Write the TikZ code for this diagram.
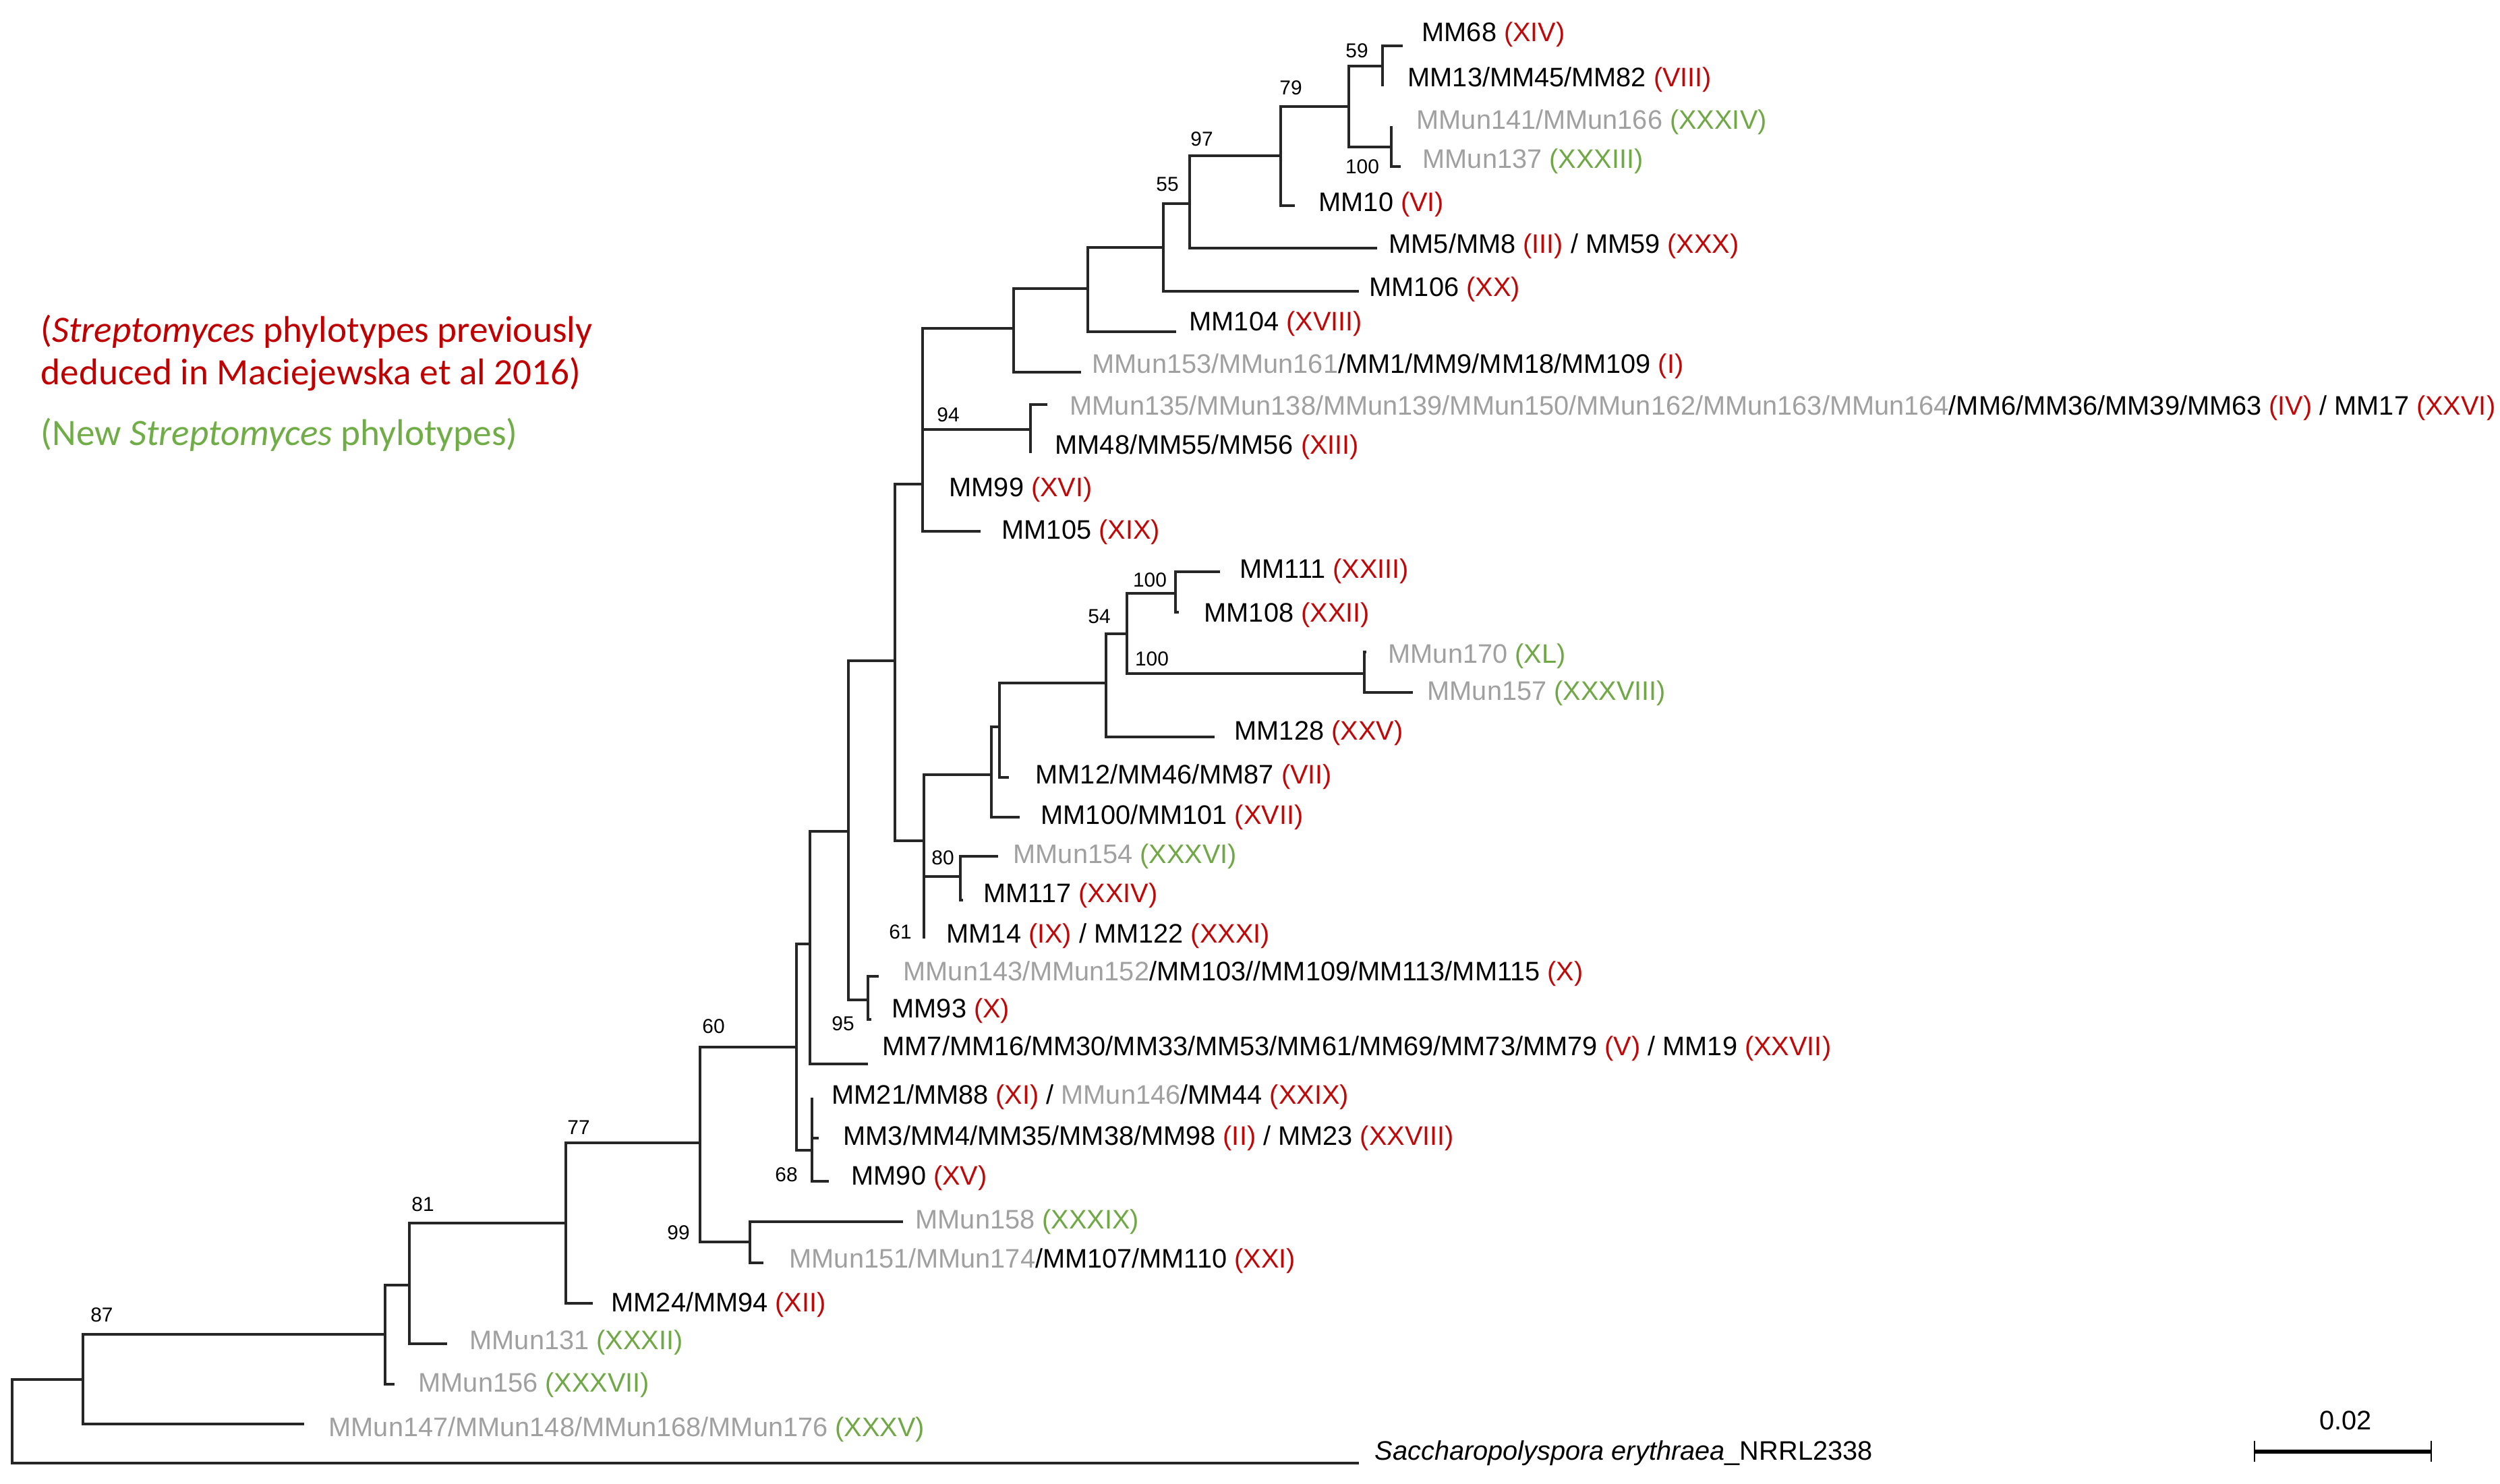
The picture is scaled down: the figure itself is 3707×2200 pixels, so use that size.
\documentclass[tikz,border=0pt]{standalone}
\usepackage{fontspec}
\setmainfont{Liberation Sans}
\newfontfamily\legfont{Carlito}
\definecolor{numred}{RGB}{192,8,8}
\definecolor{numgreen}{RGB}{112,168,70}
\definecolor{ungrey}{RGB}{160,160,160}
\definecolor{legred}{RGB}{192,0,0}
\definecolor{leggreen}{RGB}{112,173,71}
\newcommand{\rd}[1]{\textcolor{numred}{(#1)}}
\newcommand{\gr}[1]{\textcolor{numgreen}{(#1)}}
\newcommand{\ug}[1]{\textcolor{ungrey}{#1}}
\begin{document}
\begin{tikzpicture}[x=0.01cm,y=-0.01cm,
 br/.style={line width=1.2pt, black!85},
 leaf/.style={anchor=base west, inner sep=0pt, font=\fontsize{11.3}{13}\selectfont},
 boot/.style={anchor=base, inner sep=0pt, font=\fontsize{8.5}{10}\selectfont},
 legend/.style={anchor=base west, inner sep=0pt, font=\legfont\fontsize{15.7}{18}\selectfont}]
\fill[white] (0,0) rectangle (3707,2200);
\useasboundingbox (0,0) rectangle (3707,2200);

% ---- internal nodes ----
\coordinate (root) at (18,2108);
\coordinate (n87) at (123,2046);
\coordinate (n571) at (571,1979);
\coordinate (n81) at (607,1906);
\coordinate (n77) at (839,1814);
\coordinate (n60) at (1038,1695);
\coordinate (n1112) at (1112,1842);
\coordinate (n1181) at (1181,1553);
\coordinate (n68) at (1204,1706);
\coordinate (n1201) at (1201,1400);
\coordinate (n1258) at (1258,1233);
\coordinate (n95) at (1287,1483);
\coordinate (n1326) at (1327,980);
\coordinate (n61) at (1370,1247);
\coordinate (n80) at (1424,1300);
\coordinate (n1469) at (1470,1149);
\coordinate (n1482) at (1482,1078);
\coordinate (n1640) at (1640,1013);
\coordinate (n54) at (1671,940);
\coordinate (n1743) at (1743,880);
\coordinate (n2023) at (2023,999);
\coordinate (n1368) at (1368,718);
\coordinate (n1503) at (1503,487);
\coordinate (n94) at (1528,637);
\coordinate (n1613) at (1613,428);
\coordinate (n1725) at (1725,367);
\coordinate (n55) at (1764,302);
\coordinate (n97) at (1899,231);
\coordinate (n79) at (2000,158);
\coordinate (n59) at (2050,98);
\coordinate (n100a) at (2063,218);

% ---- leaf tips ----
\coordinate (lsac) at (2015,2170);
\coordinate (l147) at (451,2112);
\coordinate (l156) at (585,2053);
\coordinate (l131) at (663,1993);
\coordinate (l24) at (879,1933);
\coordinate (l158) at (1339,1812);
\coordinate (l151) at (1132,1873);
\coordinate (l21) at (1204,1628);
\coordinate (l3) at (1214,1688);
\coordinate (l90) at (1229,1752);
\coordinate (l7) at (1287,1578);
\coordinate (l143) at (1303,1448);
\coordinate (l93) at (1292,1512);
\coordinate (l14) at (1370,1392);
\coordinate (l154) at (1480,1270);
\coordinate (l117) at (1428,1335);
\coordinate (l100) at (1512,1212);
\coordinate (l12) at (1496,1153);
\coordinate (l128) at (1801,1093);
\coordinate (l111) at (1809,848);
\coordinate (l108) at (1748,908);
\coordinate (l170) at (2026,967);
\coordinate (l157) at (2095,1027);
\coordinate (l105) at (1454,788);
\coordinate (l153) at (1603,552);
\coordinate (l104) at (1744,492);
\coordinate (l106) at (2015,432);
\coordinate (l5) at (2042,368);
\coordinate (l10) at (1920,305);
\coordinate (l68) at (2080,68);
\coordinate (l13) at (2050,128);
\coordinate (l141) at (2063,187);
\coordinate (l137) at (2077,247);
\coordinate (l135) at (1553,600);
\coordinate (l48) at (1528,672);

% ---- branches ----
\draw[br] (root) |- (n87);  \draw[br] (root) |- (lsac);
\draw[br] (n87) |- (n571);  \draw[br] (n87) |- (l147);
\draw[br] (n571) |- (n81);  \draw[br] (n571) |- (l156);
\draw[br] (n81) |- (n77);   \draw[br] (n81) |- (l131);
\draw[br] (n77) |- (n60);   \draw[br] (n77) |- (l24);
\draw[br] (n60) |- (n1181); \draw[br] (n60) |- (n1112);
\draw[br] (n1112) |- (l158); \draw[br] (n1112) |- (l151);
\draw[br] (n1181) |- (n1201); \draw[br] (n1181) |- (n68);
\draw[br] (n68) |- (l21); \draw[br] (n68) |- (l3); \draw[br] (n68) |- (l90);
\draw[br] (n1201) |- (n1258); \draw[br] (n1201) |- (l7);
\draw[br] (n1258) |- (n1326); \draw[br] (n1258) |- (n95);
\draw[br] (n95) |- (l143); \draw[br] (n95) |- (l93);
\draw[br] (n1326) |- (n1368); \draw[br] (n1326) |- (n61);
\draw[br] (n61) |- (n1469); \draw[br] (n61) |- (n80); \draw[br] (n61) |- (l14);
\draw[br] (n80) |- (l154); \draw[br] (n80) |- (l117);
\draw[br] (n1469) |- (n1482); \draw[br] (n1469) |- (l100);
\draw[br] (n1482) |- (n1640); \draw[br] (n1482) |- (l12);
\draw[br] (n1640) |- (n54); \draw[br] (n1640) |- (l128);
\draw[br] (n54) |- (n1743); \draw[br] (n54) |- (n2023);
\draw[br] (n1743) |- (l111); \draw[br] (n1743) |- (l108);
\draw[br] (n2023) |- (l170); \draw[br] (n2023) |- (l157);
\draw[br] (n1368) |- (n1503); \draw[br] (n1368) |- (n94); \draw[br] (n1368) |- (l105);
\draw[br] (n94) |- (l135); \draw[br] (n94) |- (l48);
\draw[br] (n1503) |- (n1613); \draw[br] (n1503) |- (l153);
\draw[br] (n1613) |- (n1725); \draw[br] (n1613) |- (l104);
\draw[br] (n1725) |- (n55); \draw[br] (n1725) |- (l106);
\draw[br] (n55) |- (n97); \draw[br] (n55) |- (l5);
\draw[br] (n97) |- (n79); \draw[br] (n97) |- (l10);
\draw[br] (n79) |- (n59); \draw[br] (n79) |- (n100a);
\draw[br] (n59) |- (l68); \draw[br] (n59) |- (l13);
\draw[br] (n100a) |- (l141); \draw[br] (n100a) |- (l137);

% ---- bootstrap values ----
\node[boot] (b59) at (2012,86) {59};
\node[boot] (b79) at (1914,140) {79};
\node[boot] (b97) at (1782,216) {97};
\node[boot] (b55) at (1731,283) {55};
\node[boot] (b100a) at (2020,258) {100};
\node[boot] (b94) at (1406,625) {94};
\node[boot] (b100b) at (1705,870) {100};
\node[boot] (b54) at (1630,924) {54};
\node[boot] (b100c) at (1708,987) {100};
\node[boot] (b80) at (1398,1282) {80};
\node[boot] (b61) at (1335,1392) {61};
\node[boot] (b95) at (1250,1528) {95};
\node[boot] (b60) at (1058,1532) {60};
\node[boot] (b68) at (1166,1752) {68};
\node[boot] (b99) at (1006,1838) {99};
\node[boot] (b77) at (858,1682) {77};
\node[boot] (b81) at (627,1796) {81};
\node[boot] (b87) at (151,1960) {87};

% ---- leaf labels ----
\node[leaf] (t68) at (2108,62) {MM68 \rd{XIV}};
\node[leaf] (t13) at (2087,129) {MM13/MM45/MM82 \rd{VIII}};
\node[leaf] (t141) at (2100,192) {\ug{MMun141/MMun166} \gr{XXXIV}};
\node[leaf] (t137) at (2109,249) {\ug{MMun137} \gr{XXXIII}};
\node[leaf] (t10) at (1955,313) {MM10 \rd{VI}};
\node[leaf] (t5) at (2059,375) {MM5/MM8 \rd{III} / MM59 \rd{XXX}};
\node[leaf] (t106) at (2030,439) {MM106 \rd{XX}};
\node[leaf] (t104) at (1763,490) {MM104 \rd{XVIII}};
\node[leaf] (t153) at (1619,553) {\ug{MMun153/MMun161}/MM1/MM9/MM18/MM109 \rd{I}};
\node[leaf] (t135) at (1586,615) {\ug{MMun135/MMun138/MMun139/MMun150/MMun162/MMun163/MMun164}/MM6/MM36/MM39/MM63 \rd{IV} / MM17 \rd{XXVI}};
\node[leaf] (t48) at (1564,673) {MM48/MM55/MM56 \rd{XIII}};
\node[leaf] (t99) at (1407,736) {MM99 \rd{XVI}};
\node[leaf] (t105) at (1485,799) {MM105 \rd{XIX}};
\node[leaf] (t111) at (1838,857) {MM111 \rd{XXIII}};
\node[leaf] (t108) at (1785,922) {MM108 \rd{XXII}};
\node[leaf] (t170) at (2058,983) {\ug{MMun170} \gr{XL}};
\node[leaf] (t157) at (2116,1038) {\ug{MMun157} \gr{XXXVIII}};
\node[leaf] (t128) at (1830,1097) {MM128 \rd{XXV}};
\node[leaf] (t12) at (1535,1162) {MM12/MM46/MM87 \rd{VII}};
\node[leaf] (t100) at (1543,1222) {MM100/MM101 \rd{XVII}};
\node[leaf] (t154) at (1502,1280) {\ug{MMun154} \gr{XXXVI}};
\node[leaf] (t117) at (1458,1338) {MM117 \rd{XXIV}};
\node[leaf] (t14) at (1403,1398) {MM14 \rd{IX} / MM122 \rd{XXXI}};
\node[leaf] (t143) at (1339,1454) {\ug{MMun143/MMun152}/MM103//MM109/MM113/MM115 \rd{X}};
\node[leaf] (t93) at (1322,1509) {MM93 \rd{X}};
\node[leaf] (t7) at (1308,1565) {MM7/MM16/MM30/MM33/MM53/MM61/MM69/MM73/MM79 \rd{V} / MM19 \rd{XXVII}};
\node[leaf] (t21) at (1233,1637) {MM21/MM88 \rd{XI} / \ug{MMun146}/MM44 \rd{XXIX}};
\node[leaf] (t3) at (1250,1698) {MM3/MM4/MM35/MM38/MM98 \rd{II} / MM23 \rd{XXVIII}};
\node[leaf] (t90) at (1262,1757) {MM90 \rd{XV}};
\node[leaf] (t158) at (1357,1822) {\ug{MMun158} \gr{XXXIX}};
\node[leaf] (t151) at (1170,1880) {\ug{MMun151/MMun174}/MM107/MM110 \rd{XXI}};
\node[leaf] (t24) at (906,1945) {MM24/MM94 \rd{XII}};
\node[leaf] (t131) at (696,2001) {\ug{MMun131} \gr{XXXII}};
\node[leaf] (t156) at (620,2064) {\ug{MMun156} \gr{XXXVII}};
\node[leaf] (t147) at (487,2130) {\ug{MMun147/MMun148/MMun168/MMun176} \gr{XXXV}};
\node[leaf] (tsac) at (2038,2165) {\textit{Saccharopolyspora erythraea}\_NRRL2338};

% ---- legend ----
\node[legend, text=legred] (leg1) at (60,507) {(\textit{Streptomyces} phylotypes previously};
\node[legend, text=legred] (leg2) at (60,570) {deduced in Maciejewska et al 2016)};
\node[legend, text=leggreen] (leg3) at (60,660) {(New \textit{Streptomyces} phylotypes)};

% ---- scale bar ----
\coordinate (sb1) at (3343,2153);
\coordinate (sb2) at (3605,2153);
\coordinate (sb1t) at (3343,2137);
\coordinate (sb1b) at (3343,2168);
\coordinate (sb2t) at (3605,2137);
\coordinate (sb2b) at (3605,2168);
\draw[line width=1.5pt] (sb1) -- (sb2);
\draw[line width=0.8pt] (sb1t) -- (sb1b);
\draw[line width=0.8pt] (sb2t) -- (sb2b);
\node[anchor=base, inner sep=0pt, font=\fontsize{11.3}{13}\selectfont] (sbl) at (3478,2120) {0.02};
\end{tikzpicture}
\end{document}
